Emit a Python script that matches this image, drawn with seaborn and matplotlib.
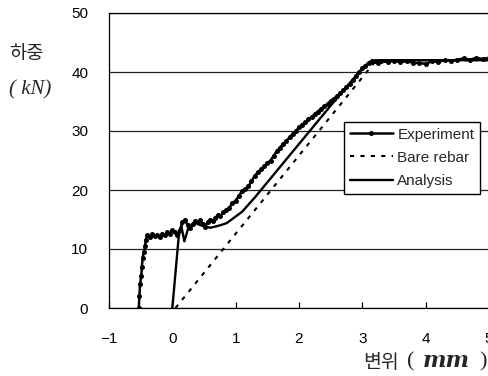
import matplotlib
matplotlib.use("Agg")
import matplotlib.pyplot as plt
import seaborn as sns
import pandas as pd

# ---- data ----
exp_x = [-0.53, -0.52, -0.51, -0.49, -0.48, -0.47, -0.45, -0.43, -0.42, -0.40,
         -0.36, -0.32, -0.28, -0.24, -0.20, -0.16, -0.12, -0.08, -0.04, 0.00,
         0.04, 0.08, 0.12, 0.16, 0.20, 0.24, 0.28, 0.32, 0.36, 0.40,
         0.44, 0.48, 0.52, 0.56, 0.60, 0.64, 0.68, 0.72, 0.76, 0.80,
         0.85, 0.90, 0.95, 1.00, 1.05, 1.10, 1.15, 1.20, 1.25, 1.30,
         1.35, 1.40, 1.45, 1.50, 1.55, 1.60, 1.65, 1.70, 1.75, 1.80,
         1.85, 1.90, 1.95, 2.00, 2.05, 2.10, 2.15, 2.20, 2.25, 2.30,
         2.35, 2.40, 2.45, 2.50, 2.55, 2.60, 2.65, 2.70, 2.75, 2.80,
         2.85, 2.90, 2.95, 3.00, 3.05, 3.10, 3.15, 3.20, 3.25, 3.30,
         3.40, 3.50, 3.60, 3.70, 3.80, 3.90, 4.00, 4.10, 4.20, 4.30,
         4.40, 4.50, 4.60, 4.70, 4.80, 4.90, 5.00]
exp_y = [0.0, 2.0, 4.0, 5.5, 7.0, 8.5, 9.5, 10.5, 11.5, 12.3,
         12.0, 12.5, 12.2, 12.4, 12.0, 12.6, 12.3, 12.8, 12.5, 13.2,
         12.8, 12.4, 13.2, 14.5, 15.0, 14.0, 13.6, 14.2, 14.8, 14.5,
         14.9, 14.2, 13.8, 14.6, 15.0, 14.8, 15.3, 15.8, 15.6, 16.2,
         16.6, 17.0, 17.8, 18.2, 19.0, 19.8, 20.2, 20.6, 21.5, 22.4,
         23.0, 23.5, 24.0, 24.6, 25.0, 25.8, 26.6, 27.2, 27.8, 28.3,
         28.9, 29.5, 30.0, 30.6, 31.1, 31.5, 32.0, 32.4, 32.9, 33.3,
         33.8, 34.2, 34.6, 35.1, 35.5, 35.9, 36.4, 36.9, 37.4, 38.0,
         38.6, 39.3, 40.0, 40.6, 41.1, 41.6, 41.9, 41.8, 41.6, 41.8,
         41.7, 41.9, 41.7, 41.8, 41.6, 41.5, 41.4, 41.8, 41.7, 42.0,
         41.9, 42.1, 42.3, 42.1, 42.4, 42.2, 42.4]

bare_x = [0.05, 3.22, 5.0]
bare_y = [0.0, 42.0, 42.0]

ana_x = [0.00, 0.10, 0.14, 0.19, 0.25, 0.35, 0.45, 0.60, 0.75, 0.86,
         1.10, 1.30, 2.00, 2.50, 2.95, 3.10, 3.25, 5.00]
ana_y = [0.0, 12.0, 14.0, 11.3, 13.5, 14.5, 14.0, 13.6, 14.0, 14.4,
         16.3, 18.7, 27.8, 34.3, 40.0, 41.5, 42.0, 42.0]

x_ticks = [-1, 0, 1, 2, 3, 4, 5]
y_ticks = [0, 10, 20, 30, 40, 50]
series_names = ["Experiment", "Bare rebar", "Analysis"]

# ---- plot ----
sns.set_style("white")
plt.rcParams["font.family"] = ["Liberation Sans", "DejaVu Sans"]

fig = plt.figure(figsize=(4.89, 3.76), dpi=100)
ax = fig.add_axes([109 / 489, 68 / 376, 380 / 489, 295 / 376])

exp_df = pd.DataFrame({"x": exp_x, "y": exp_y})
bare_df = pd.DataFrame({"x": bare_x, "y": bare_y})
ana_df = pd.DataFrame({"x": ana_x, "y": ana_y})

sns.lineplot(data=exp_df, x="x", y="y", ax=ax, sort=False, estimator=None,
             color="black", lw=1.8, marker="o", markersize=3.6, markeredgewidth=0,
             label=series_names[0])
sns.lineplot(data=bare_df, x="x", y="y", ax=ax, sort=False, estimator=None,
             color="black", lw=1.5, linestyle=(0, (2, 3)), label=series_names[1])
sns.lineplot(data=ana_df, x="x", y="y", ax=ax, sort=False, estimator=None,
             color="black", lw=1.7, label=series_names[2])

ax.set_xlim(-1, 5)
ax.set_ylim(0, 50)
ax.set_xticks(x_ticks)
ax.set_yticks(y_ticks)
ax.set_xticklabels(["\u22121" if t < 0 else str(t) for t in x_ticks])
ax.set_xlabel("")
ax.set_ylabel("")

ax.yaxis.grid(True, color="#222222", lw=0.9)
ax.xaxis.grid(False)
ax.set_axisbelow(True)

for s in ["left", "bottom", "top"]:
    ax.spines[s].set_visible(True)
    ax.spines[s].set_color("black")
    ax.spines[s].set_linewidth(0.9)
ax.spines["right"].set_visible(False)

ax.tick_params(axis="x", direction="in", length=4, width=0.9, colors="black",
               pad=17, labelsize=11, bottom=True)
ax.tick_params(axis="y", length=0, pad=15, labelsize=11, colors="black")

leg = ax.legend(loc="upper left", bbox_to_anchor=(0.618, 0.632), frameon=True,
                fancybox=False, edgecolor="black", fontsize=11, handlelength=2.8,
                handletextpad=0.3, labelspacing=0.6, borderpad=0.4,
                borderaxespad=0, numpoints=1, framealpha=1)
leg.get_frame().set_linewidth(1.0)

fig.text(26 / 489, 1 - 53 / 376, "하중", fontsize=13.5, ha="center", va="center",
         family=["Noto Sans CJK KR", "DejaVu Sans"])
fig.text(30 / 489, 1 - 90 / 376, "( kN)", fontsize=15, ha="center",
         va="center", style="italic",
         family=["Liberation Serif", "DejaVu Serif"])
# x label: 변위 ( mm )
fig.text(399 / 489, 1 - 362 / 376, "변위", fontsize=14, ha="right",
         va="center", family=["Noto Sans CJK KR", "DejaVu Sans"])
fig.text(411 / 489, 1 - 362 / 376, "(", fontsize=16, ha="center",
         va="center", family=["Liberation Serif", "DejaVu Serif"])
fig.text(446 / 489, 1 - 361 / 376, "mm", fontsize=16, ha="center",
         va="center", style="italic", weight="bold",
         family=["DejaVu Serif"])
fig.text(483 / 489, 1 - 362 / 376, ")", fontsize=16, ha="center",
         va="center", family=["Liberation Serif", "DejaVu Serif"])

fig.savefig("out.png", dpi=100)
